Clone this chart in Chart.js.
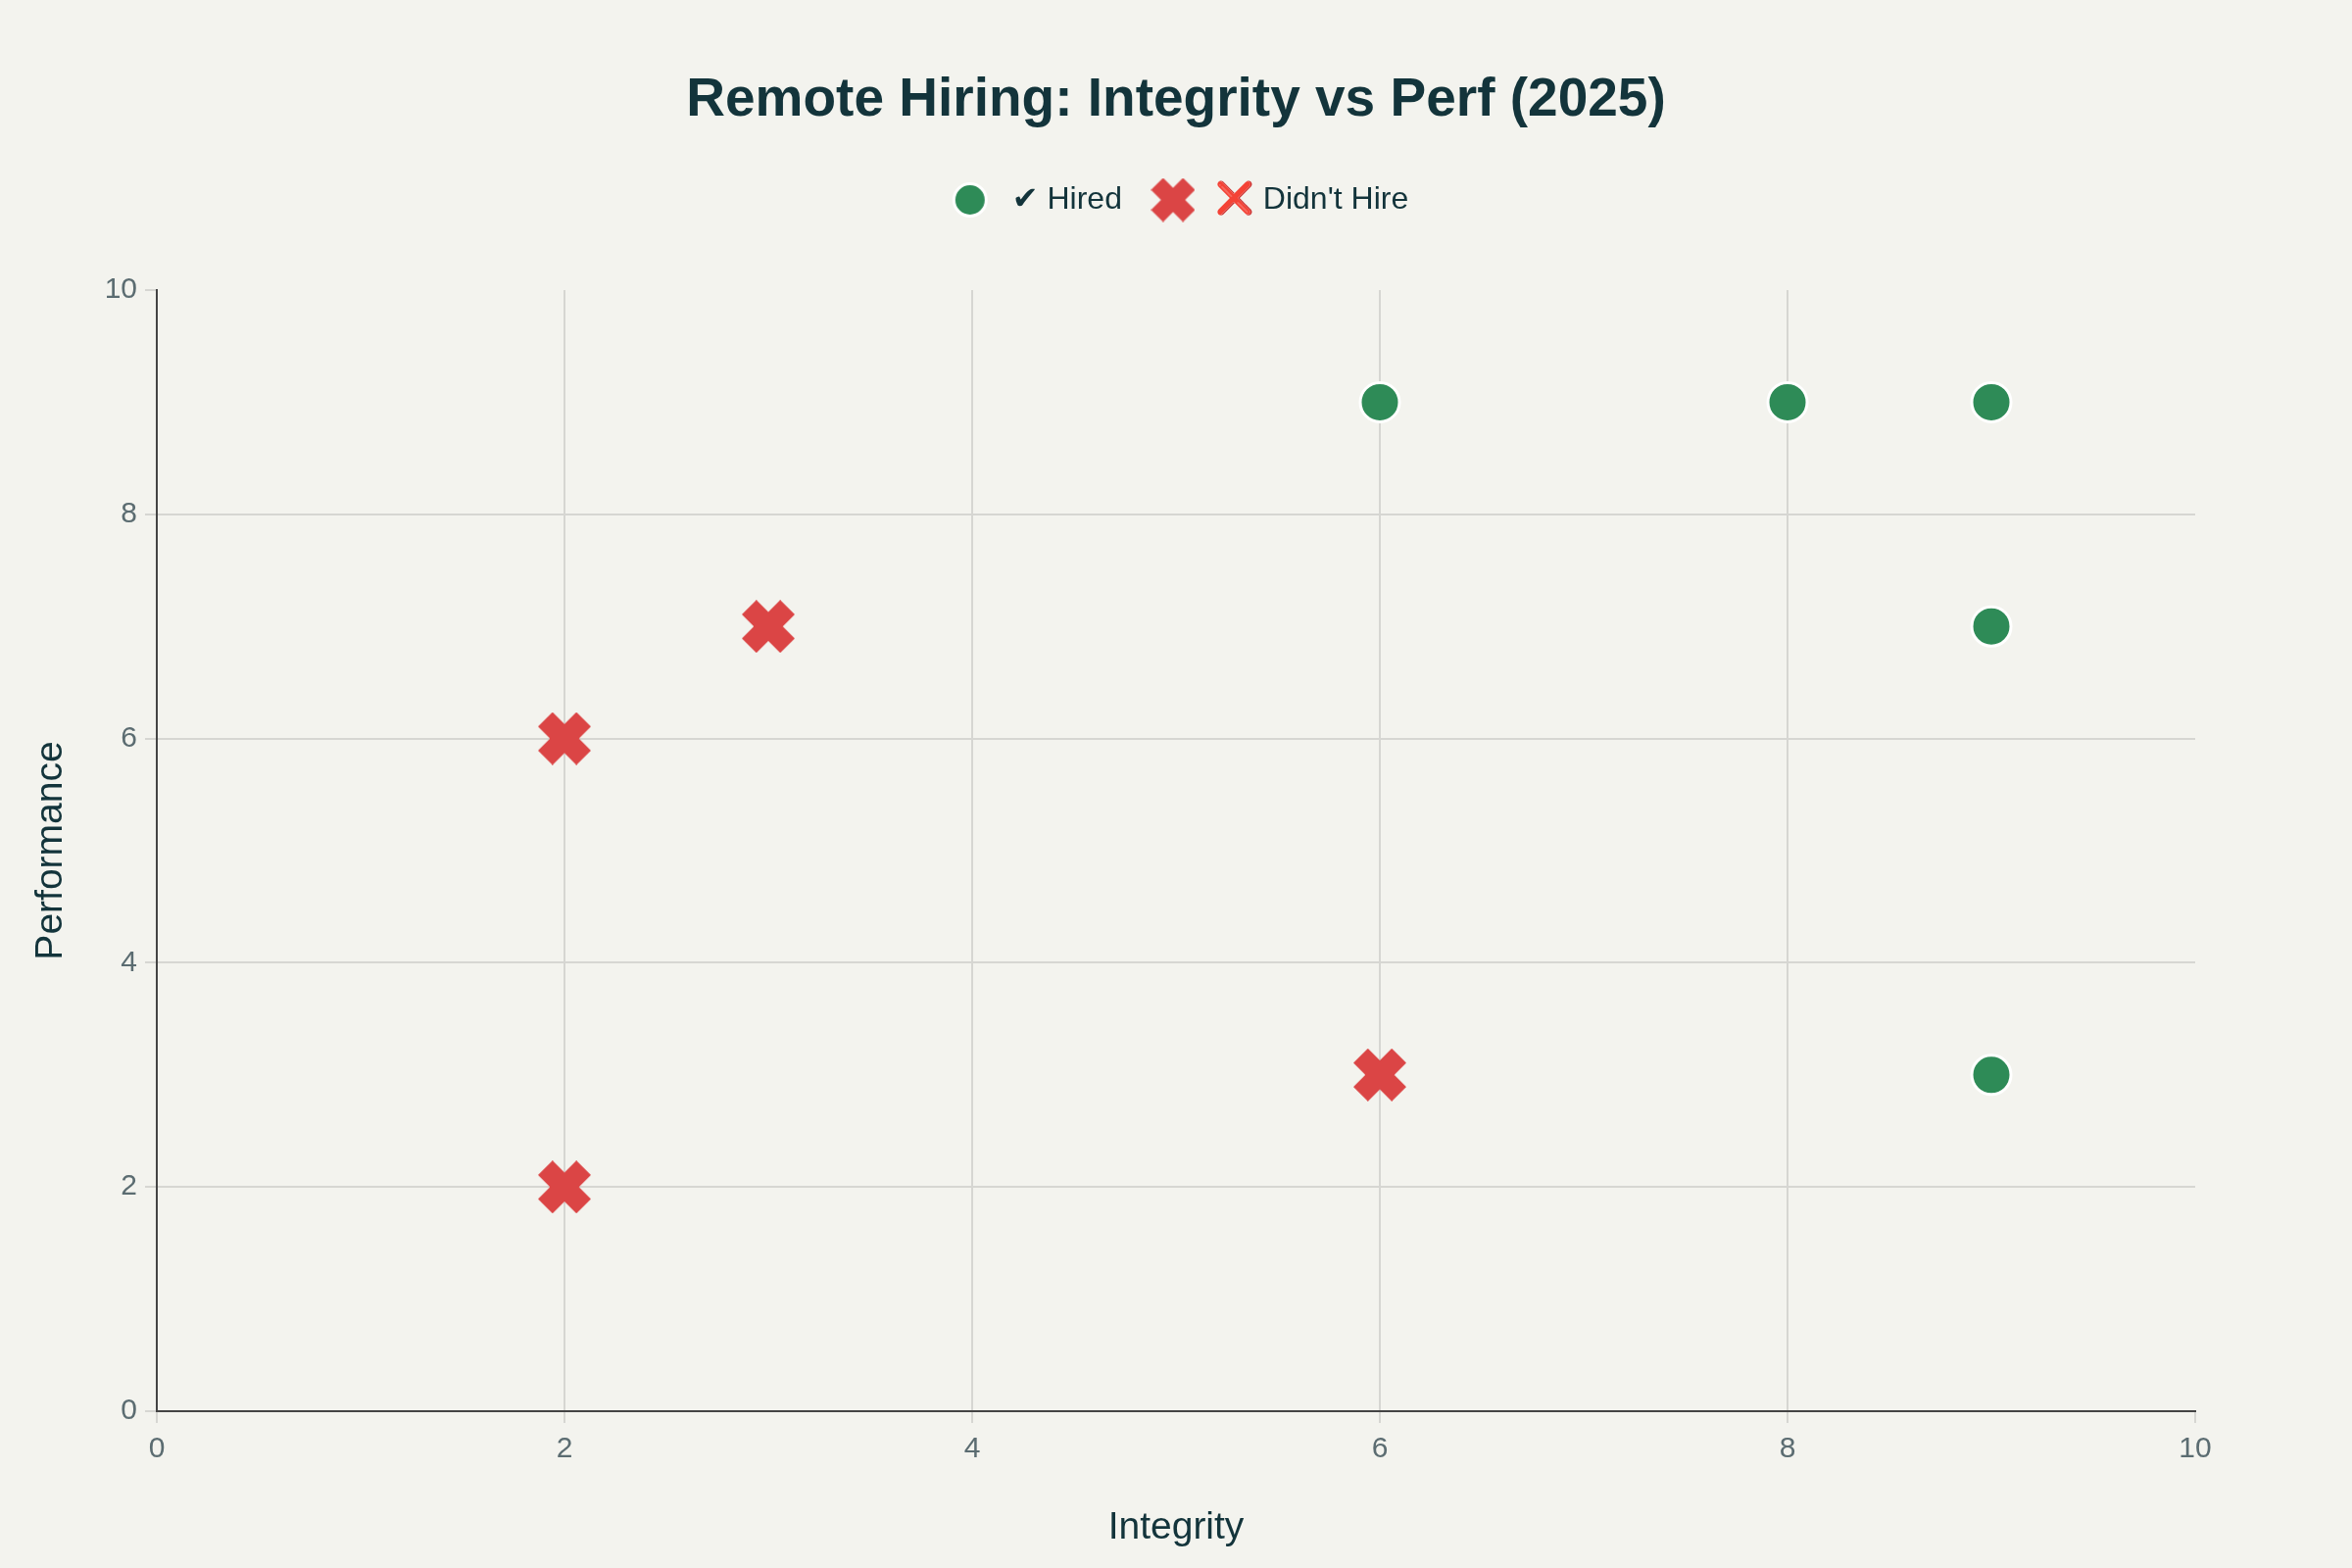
<!DOCTYPE html>
<html>
<head>
<meta charset="utf-8">
<title>Remote Hiring: Integrity vs Perf (2025)</title>
<script src="https://cdn.jsdelivr.net/npm/chart.js@4.4.1/dist/chart.umd.min.js"></script>
<style>
  html, body { margin: 0; padding: 0; background: #F3F3EE; }
  #wrap { width: 2400px; height: 1600px; }
</style>
</head>
<body>
<div id="wrap"><canvas id="chart" width="2400" height="1600"></canvas></div>
<script>
/* Remote hiring scatter: integrity vs performance */

var seriesNames = ['\u2714 Hired', '\u274C Didn\'t Hire'];
var hiredIntegrity = [6, 8, 9, 9, 9];
var hiredPerformance = [9, 9, 9, 7, 3];
var notHiredIntegrity = [2, 3, 2, 6];
var notHiredPerformance = [6, 7, 2, 3];
var axisMin = 0;
var axisMax = 10;
var axisStep = 2;

(function () {
  'use strict';

  var FONT = '"Liberation Sans", Arial, "DejaVu Sans", sans-serif';
  var GREEN = '#2E8B57';
  var RED = '#DB4545';
  var DARK = '#13343B';
  var TICK = '#5B6C71';
  var GRID = '#D6D6D2';

  function toPoints(xs, ys) {
    return xs.map(function (x, i) { return { x: x, y: ys[i] }; });
  }

  // Thick "x" marker like the plotly symbol
  function crossMarker(size, thick) {
    var c = document.createElement('canvas');
    c.width = size; c.height = size;
    var g = c.getContext('2d');
    var m = size / 2;
    var a = (size / 2) - (thick / 2) / Math.SQRT2;
    g.strokeStyle = RED;
    g.lineWidth = thick;
    g.lineCap = 'butt';
    g.beginPath();
    g.moveTo(m - a, m - a); g.lineTo(m + a, m + a);
    g.moveTo(m + a, m - a); g.lineTo(m - a, m + a);
    g.stroke();
    return c;
  }

  function dotMarker(size, r, bw) {
    var c = document.createElement('canvas');
    c.width = size; c.height = size;
    var g = c.getContext('2d');
    g.beginPath();
    g.arc(size / 2, size / 2, r, 0, Math.PI * 2);
    g.fillStyle = GREEN;
    g.fill();
    g.lineWidth = bw;
    g.strokeStyle = '#FFFFFF';
    g.stroke();
    return c;
  }

  var plotCross = crossMarker(54, 21);
  var legendCross = crossMarker(45, 17.5);
  var legendDot = dotMarker(38, 16.5, 3);

  var bgPlugin = {
    id: 'bg',
    beforeDraw: function (chart) {
      var ctx = chart.ctx;
      ctx.save();
      ctx.fillStyle = '#F3F3EE';
      ctx.fillRect(0, 0, chart.width, chart.height);
      ctx.restore();
    }
  };

  // Extra room between legend and plot
  var legendGap = {
    id: 'legendGap',
    beforeLayout: function (chart) {
      var lg = chart.legend;
      if (lg && !lg._gapPatched) {
        var fit = lg.fit;
        lg.fit = function () { fit.call(this); this.height = 133; };
        lg._gapPatched = true;
      }
    }
  };

  function hideEdge(ctx) {
    var v = ctx.tick ? ctx.tick.value : null;
    return (v === axisMin || v === axisMax) ? 'rgba(0,0,0,0)' : GRID;
  }

  var ctx = document.getElementById('chart').getContext('2d');

  new Chart(ctx, {
    type: 'scatter',
    data: {
      datasets: [
        {
          label: seriesNames[0],
          data: toPoints(hiredIntegrity, hiredPerformance),
          pointStyle: 'circle',
          pointRadius: 20,
          pointHoverRadius: 20,
          backgroundColor: GREEN,
          borderColor: '#FFFFFF',
          borderWidth: 3
        },
        {
          label: seriesNames[1],
          data: toPoints(notHiredIntegrity, notHiredPerformance),
          pointStyle: plotCross,
          pointRadius: 27,
          backgroundColor: RED,
          borderColor: RED,
          borderWidth: 0
        }
      ]
    },
    options: {
      responsive: false,
      animation: false,
      events: [],
      layout: { padding: 0 },
      plugins: {
        title: {
          display: true,
          text: 'Remote Hiring: Integrity vs Perf (2025)',
          color: DARK,
          font: { family: FONT, size: 55, weight: 'bold' },
          padding: { top: 70, bottom: 27 }
        },
        legend: {
          display: true,
          position: 'top',
          labels: {
            usePointStyle: true,
            pointStyleWidth: 54,
            padding: 25,
            color: DARK,
            font: { family: FONT, size: 32 },
            generateLabels: function (chart) {
              var items = Chart.defaults.plugins.legend.labels.generateLabels(chart);
              items.forEach(function (it, i) {
                it.pointStyle = i === 0 ? legendDot : legendCross;
              });
              return items;
            }
          }
        },
        tooltip: { enabled: false }
      },
      scales: {
        x: {
          type: 'linear',
          position: 'bottom',
          min: axisMin,
          max: axisMax,
          ticks: { stepSize: axisStep, color: TICK, padding: 9, font: { family: FONT, size: 30 } },
          grid: { color: hideEdge, tickColor: GRID, lineWidth: 2, tickLength: 12 },
          border: { display: true, color: '#444444', width: 2 },
          title: {
            display: true,
            text: 'Integrity',
            color: DARK,
            font: { family: FONT, size: 39 },
            padding: { top: 10, bottom: 17 }
          },
          afterFit: function (s) { s.height = 160; }
        },
        y: {
          type: 'linear',
          position: 'left',
          min: axisMin,
          max: axisMax,
          ticks: { stepSize: axisStep, color: TICK, padding: 8, font: { family: FONT, size: 30 } },
          grid: { color: hideEdge, tickColor: GRID, lineWidth: 2, tickLength: 12 },
          border: { display: true, color: '#444444', width: 2 },
          title: {
            display: true,
            text: 'Performance',
            color: DARK,
            font: { family: FONT, size: 39 },
            padding: { top: 29, bottom: 10 }
          },
          afterFit: function (s) { s.width = 160; }
        },
        yRight: {
          type: 'linear',
          position: 'right',
          display: true,
          grid: { display: false, drawTicks: false },
          border: { display: false },
          ticks: { display: false },
          afterFit: function (s) { s.width = 160; }
        }
      }
    },
    plugins: [bgPlugin, legendGap]
  });
})();
</script>
</body>
</html>
